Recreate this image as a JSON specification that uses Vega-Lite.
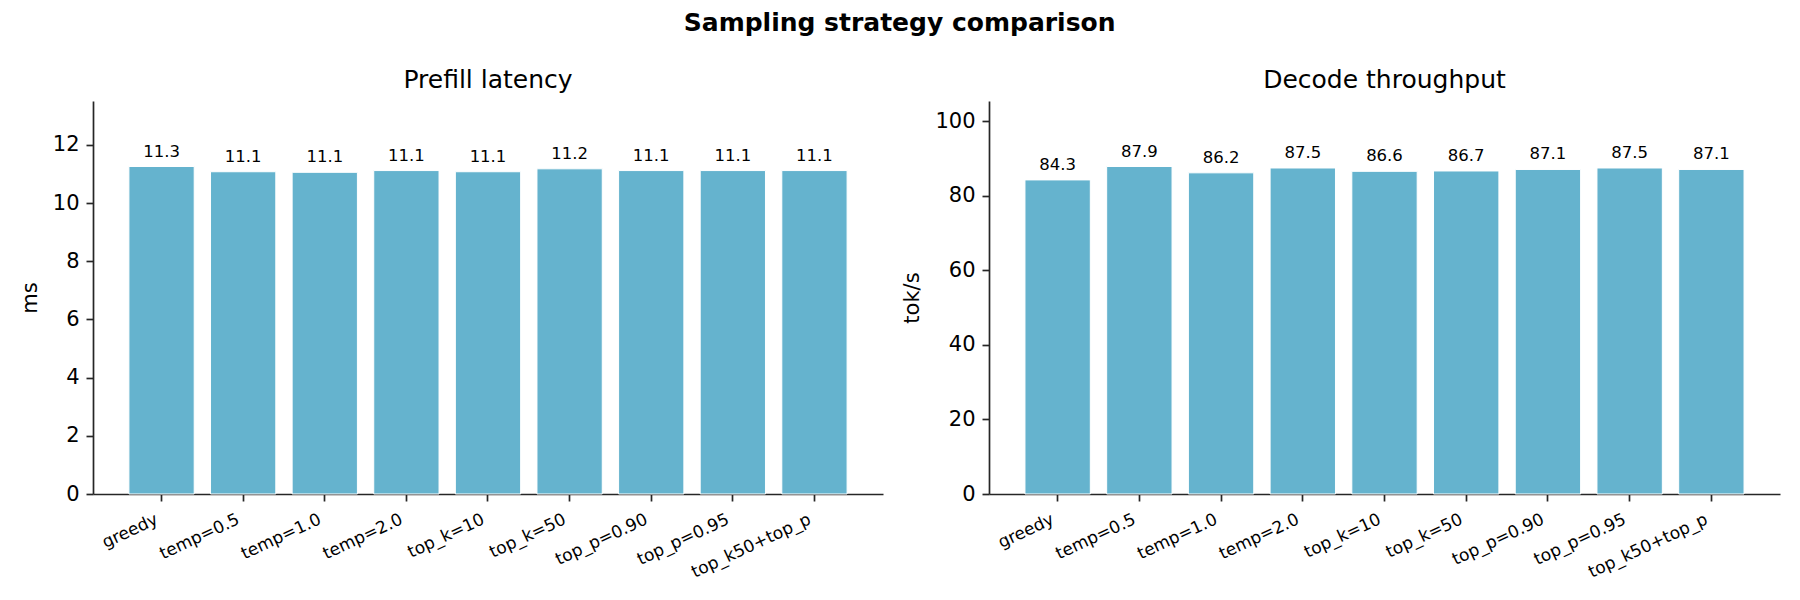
{
  "$schema": "https://vega.github.io/schema/vega-lite/v6.json",
  "background": "white",
  "padding": {"left": 19, "top": 11, "right": 20, "bottom": 0},
  "title": {
    "text": "Sampling strategy comparison",
    "font": "DejaVu Sans",
    "fontSize": 25,
    "fontWeight": "bold",
    "anchor": "middle",
    "color": "black",
    "offset": 32
  },
  "data": {
    "values": [
      {"strategy": "greedy", "prefill": 11.26, "decode": 84.3},
      {"strategy": "temp=0.5", "prefill": 11.08, "decode": 87.9},
      {"strategy": "temp=1.0", "prefill": 11.06, "decode": 86.2},
      {"strategy": "temp=2.0", "prefill": 11.12, "decode": 87.5},
      {"strategy": "top_k=10", "prefill": 11.08, "decode": 86.6},
      {"strategy": "top_k=50", "prefill": 11.18, "decode": 86.7},
      {"strategy": "top_p=0.90", "prefill": 11.12, "decode": 87.1},
      {"strategy": "top_p=0.95", "prefill": 11.12, "decode": 87.5},
      {"strategy": "top_k50+top_p", "prefill": 11.12, "decode": 87.1}
    ]
  },
  "config": {
    "font": "DejaVu Sans",
    "view": {"stroke": null},
    "axis": {
      "domainColor": "#262626",
      "domainWidth": 1.7,
      "tickColor": "#262626",
      "tickWidth": 1.7,
      "tickSize": 7,
      "labelColor": "black",
      "titleColor": "black",
      "labelFont": "DejaVu Sans",
      "titleFont": "DejaVu Sans",
      "titleFontWeight": "normal",
      "grid": false
    },
    "title": {"font": "DejaVu Sans", "fontSize": 25, "fontWeight": "normal", "color": "black", "offset": 8}
  },
  "spacing": 18,
  "hconcat": [
    {
      "width": 790,
      "height": 393,
      "title": {"text": "Prefill latency"},
      "encoding": {
        "x": {
          "field": "strategy",
          "type": "nominal",
          "sort": null,
          "scale": {"paddingInner": 0.2, "paddingOuter": 0.44},
          "axis": {"title": null, "labelAngle": -25, "labelAlign": "right", "labelBaseline": "top", "labelFontSize": 17, "labelPadding": 10, "labelOffset": -8}
        },
        "y": {
          "field": "prefill",
          "type": "quantitative",
          "scale": {"domain": [0, 13.512], "nice": false},
          "axis": {"title": "ms", "values": [0, 2, 4, 6, 8, 10, 12], "labelFontSize": 21, "titleFontSize": 21, "labelPadding": 7, "titlePadding": 12}
        }
      },
      "layer": [
        {"mark": {"type": "bar", "color": "#65b3ce", "stroke": "white", "strokeWidth": 1}},
        {
          "mark": {"type": "text", "baseline": "alphabetic", "dy": -10, "fontSize": 16.5, "color": "black"},
          "encoding": {"text": {"field": "prefill", "type": "quantitative", "format": ".1f"}}
        }
      ]
    },
    {
      "width": 791,
      "height": 393,
      "title": {"text": "Decode throughput"},
      "encoding": {
        "x": {
          "field": "strategy",
          "type": "nominal",
          "sort": null,
          "scale": {"paddingInner": 0.2, "paddingOuter": 0.44},
          "axis": {"title": null, "labelAngle": -25, "labelAlign": "right", "labelBaseline": "top", "labelFontSize": 17, "labelPadding": 10, "labelOffset": -8}
        },
        "y": {
          "field": "decode",
          "type": "quantitative",
          "scale": {"domain": [0, 105.48], "nice": false},
          "axis": {"title": "tok/s", "values": [0, 20, 40, 60, 80, 100], "labelFontSize": 21, "titleFontSize": 21, "labelPadding": 7, "titlePadding": 12}
        }
      },
      "layer": [
        {"mark": {"type": "bar", "color": "#65b3ce", "stroke": "white", "strokeWidth": 1}},
        {
          "mark": {"type": "text", "baseline": "alphabetic", "dy": -10, "fontSize": 16.5, "color": "black"},
          "encoding": {"text": {"field": "decode", "type": "quantitative", "format": ".1f"}}
        }
      ]
    }
  ]
}
